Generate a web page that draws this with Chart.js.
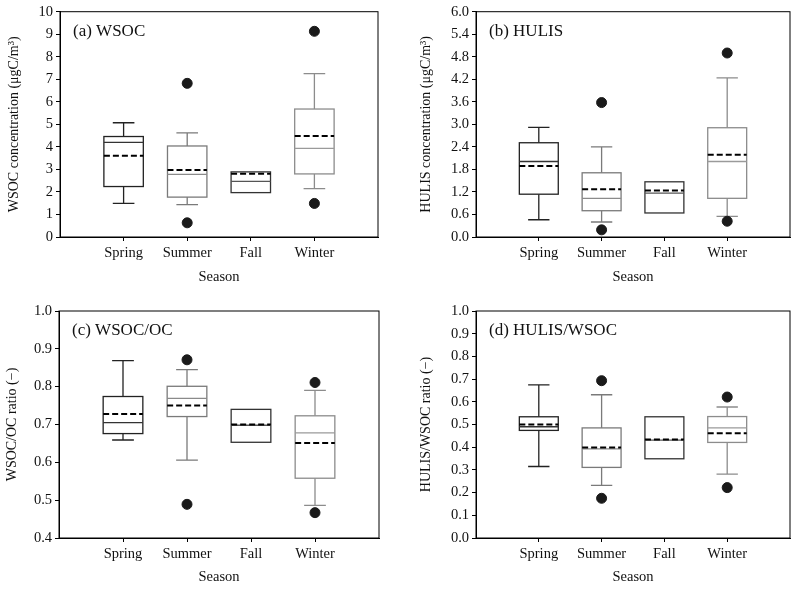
<!DOCTYPE html>
<html>
<head>
<meta charset="utf-8">
<script src="https://cdn.jsdelivr.net/npm/chart.js@4.4.0/dist/chart.umd.min.js"></script>
<style>
html, body { margin: 0; padding: 0; background: #fff; }
#wrap { position: relative; width: 800px; height: 589px; }
#wrap canvas { position: absolute; }
</style>
</head>
<body>
<div id="wrap">
<canvas id="cA" width="400" height="294" style="left:0;top:0"></canvas>
<canvas id="cB" width="400" height="294" style="left:400px;top:0"></canvas>
<canvas id="cC" width="400" height="294" style="left:0;top:295px"></canvas>
<canvas id="cD" width="400" height="294" style="left:400px;top:295px"></canvas>
</div>
<script>
var seasons = ['Spring', 'Summer', 'Fall', 'Winter'];

// (a) WSOC, ugC/m3
var wsocLow = [1.49, 1.44, null, 2.15];
var wsocQ1 = [2.24, 1.77, 1.97, 2.80];
var wsocMedian = [4.20, 2.78, 2.47, 3.93];
var wsocQ3 = [4.46, 4.04, 2.89, 5.68];
var wsocHigh = [5.07, 4.62, null, 7.25];
var wsocMean = [3.61, 2.97, 2.81, 4.48];
var wsocOutliers = [[], [6.82, 0.63], [], [9.13, 1.49]];
var wsocTicks = [0, 1, 2, 3, 4, 5, 6, 7, 8, 9, 10];

// (b) HULIS, ugC/m3
var hulisLow = [0.46, 0.40, null, 0.55];
var hulisQ1 = [1.14, 0.70, 0.64, 1.03];
var hulisMedian = [2.01, 1.03, 1.17, 2.01];
var hulisQ3 = [2.51, 1.71, 1.47, 2.91];
var hulisHigh = [2.92, 2.40, null, 4.24];
var hulisMean = [1.89, 1.27, 1.24, 2.19];
var hulisOutliers = [[], [3.58, 0.19], [], [4.90, 0.42]];
var hulisTicks = [0, 0.6, 1.2, 1.8, 2.4, 3.0, 3.6, 4.2, 4.8, 5.4, 6.0];

// (c) WSOC/OC ratio
var wocLow = [0.659, 0.606, null, 0.486];
var wocQ1 = [0.676, 0.721, 0.653, 0.558];
var wocMedian = [0.705, 0.769, 0.698, 0.678];
var wocQ3 = [0.774, 0.801, 0.740, 0.723];
var wocHigh = [0.869, 0.845, null, 0.790];
var wocMean = [0.728, 0.750, 0.700, 0.651];
var wocOutliers = [[], [0.871, 0.489], [], [0.811, 0.467]];
var wocTicks = [0.4, 0.5, 0.6, 0.7, 0.8, 0.9, 1.0];

// (d) HULIS/WSOC ratio
var hwLow = [0.315, 0.232, null, 0.281];
var hwQ1 = [0.474, 0.311, 0.349, 0.421];
var hwMedian = [0.490, 0.393, 0.431, 0.485];
var hwQ3 = [0.534, 0.485, 0.534, 0.535];
var hwHigh = [0.675, 0.631, null, 0.577];
var hwMean = [0.500, 0.399, 0.434, 0.462];
var hwOutliers = [[], [0.693, 0.175], [], [0.621, 0.222]];
var hwTicks = [0, 0.1, 0.2, 0.3, 0.4, 0.5, 0.6, 0.7, 0.8, 0.9, 1.0];

var FONT = '"Liberation Serif", "Times New Roman", serif';
var boxColor = ['#222222', '#7a7a7a', '#333333', '#8c8c8c'];
var medColor = ['#333333', '#8a8a8a', '#555555', '#9a9a9a'];

function makeBoxPlugin(s, label) {
	return {
		id: 'boxes',
		beforeDatasetsDraw: function (chart) {
			var ctx = chart.ctx, xs = chart.scales.x, ys = chart.scales.y;
			ctx.save();
			for (var i = 0; i < seasons.length; i++) {
				var xc = i + 1;
				var xl = xs.getPixelForValue(xc - 0.31), xr = xs.getPixelForValue(xc + 0.31);
				var cl = xs.getPixelForValue(xc - 0.17), cr = xs.getPixelForValue(xc + 0.17);
				var xm = xs.getPixelForValue(xc);
				var y1 = ys.getPixelForValue(s.q1[i]), y3 = ys.getPixelForValue(s.q3[i]);
				ctx.strokeStyle = boxColor[i];
				ctx.lineWidth = 1.3;
				ctx.setLineDash([]);
				// whiskers
				if (s.high[i] != null) {
					var yh = ys.getPixelForValue(s.high[i]);
					ctx.beginPath();
					ctx.moveTo(xm, y3); ctx.lineTo(xm, yh);
					ctx.moveTo(cl, yh); ctx.lineTo(cr, yh);
					ctx.stroke();
				}
				if (s.low[i] != null) {
					var yl = ys.getPixelForValue(s.low[i]);
					ctx.beginPath();
					ctx.moveTo(xm, y1); ctx.lineTo(xm, yl);
					ctx.moveTo(cl, yl); ctx.lineTo(cr, yl);
					ctx.stroke();
				}
				ctx.fillStyle = '#fff';
				ctx.fillRect(xl, y3, xr - xl, y1 - y3);
				ctx.strokeRect(xl, y3, xr - xl, y1 - y3);
				// median
				var ym = ys.getPixelForValue(s.median[i]);
				ctx.strokeStyle = medColor[i];
				ctx.beginPath();
				ctx.moveTo(xl, ym); ctx.lineTo(xr, ym);
				ctx.stroke();
				// mean, dashed
				var ya = ys.getPixelForValue(s.mean[i]);
				ctx.strokeStyle = '#000';
				ctx.lineWidth = 2;
				ctx.setLineDash([6, 3]);
				ctx.beginPath();
				ctx.moveTo(xl, ya); ctx.lineTo(xr, ya);
				ctx.stroke();
			}
			ctx.restore();
		},
		afterDraw: function (chart) {
			var ctx = chart.ctx, a = chart.chartArea;
			ctx.save();
			ctx.strokeStyle = '#000';
			ctx.lineWidth = 1;
			ctx.strokeRect(a.left, a.top, a.right - a.left, a.bottom - a.top);
			ctx.fillStyle = '#111';
			ctx.font = '17px ' + FONT;
			ctx.textBaseline = 'middle';
			ctx.fillText(label, a.left + 13, a.top + 20);
			ctx.restore();
		}
	};
}

function create(o) {
	var points = [];
	o.stats.out.forEach(function (list, i) {
		list.forEach(function (v) { points.push({ x: i + 1, y: v }); });
	});
	return new Chart(document.getElementById(o.id), {
		type: 'scatter',
		data: {
			datasets: [{
				data: points,
				pointRadius: 5,
				pointHoverRadius: 5,
				backgroundColor: '#1a1a1a',
				borderColor: '#1a1a1a'
			}]
		},
		options: {
			responsive: false,
			animation: false,
			layout: { padding: { left: 0, right: o.right, top: o.top, bottom: 0 } },
			plugins: { legend: { display: false }, tooltip: { enabled: false } },
			scales: {
				x: {
					type: 'linear',
					min: 0,
					max: 5,
					afterBuildTicks: function (scale) {
						scale.ticks = seasons.map(function (n, i) { return { value: i + 1 }; });
					},
					afterFit: function (scale) { scale.height = o.xHeight; },
					grid: { drawOnChartArea: false, drawTicks: true, tickLength: 4, color: '#000' },
					border: { display: true, color: '#000' },
					ticks: {
						color: '#111', font: { family: FONT, size: 14.5 }, maxRotation: 0, padding: 3,
						callback: function (v) { return seasons[v - 1] || ''; }
					},
					title: { display: true, text: 'Season', color: '#111', font: { family: FONT, size: 14.5 }, padding: { top: o.xPad, bottom: o.xPad } }
				},
				y: {
					min: o.ticks[0],
					max: o.ticks[o.ticks.length - 1],
					afterBuildTicks: function (scale) {
						scale.ticks = o.ticks.map(function (v) { return { value: v }; });
					},
					afterFit: function (scale) { scale.width = o.yWidth; },
					grid: { drawOnChartArea: false, drawTicks: true, tickLength: 4, color: '#000' },
					border: { display: true, color: '#000' },
					ticks: {
						color: '#111', font: { family: FONT, size: 14.5 }, padding: 3,
						callback: function (v) { return v.toFixed(o.decimals); }
					},
					title: { display: true, text: o.yTitle, color: '#111', font: { family: FONT, size: 14 }, padding: { top: o.yPad, bottom: o.yPad } }
				}
			}
		},
		plugins: [makeBoxPlugin(o.stats, o.label)]
	});
}

create({
	id: 'cA', label: '(a) WSOC', yTitle: 'WSOC concentration (\u03bcgC/m\u00b3)',
	stats: { low: wsocLow, q1: wsocQ1, median: wsocMedian, q3: wsocQ3, high: wsocHigh, mean: wsocMean, out: wsocOutliers },
	ticks: wsocTicks, decimals: 0,
	yWidth: 60, right: 22, top: 11, xHeight: 57, xPad: 8.6, yPad: 6
});
create({
	id: 'cB', label: '(b) HULIS', yTitle: 'HULIS concentration (\u03bcgC/m\u00b3)',
	stats: { low: hulisLow, q1: hulisQ1, median: hulisMedian, q3: hulisQ3, high: hulisHigh, mean: hulisMean, out: hulisOutliers },
	ticks: hulisTicks, decimals: 1,
	yWidth: 76, right: 10, top: 11, xHeight: 57, xPad: 8.6, yPad: 17.6
});
create({
	id: 'cC', label: '(c) WSOC/OC', yTitle: 'WSOC/OC ratio (\u2212)',
	stats: { low: wocLow, q1: wocQ1, median: wocMedian, q3: wocQ3, high: wocHigh, mean: wocMean, out: wocOutliers },
	ticks: wocTicks, decimals: 1,
	yWidth: 59, right: 21, top: 16, xHeight: 51, xPad: 3.6, yPad: 3.6
});
create({
	id: 'cD', label: '(d) HULIS/WSOC', yTitle: 'HULIS/WSOC ratio (\u2212)',
	stats: { low: hwLow, q1: hwQ1, median: hwMedian, q3: hwQ3, high: hwHigh, mean: hwMean, out: hwOutliers },
	ticks: hwTicks, decimals: 1,
	yWidth: 76, right: 10, top: 16, xHeight: 51, xPad: 3.6, yPad: 17.6
});
</script>
</body>
</html>
